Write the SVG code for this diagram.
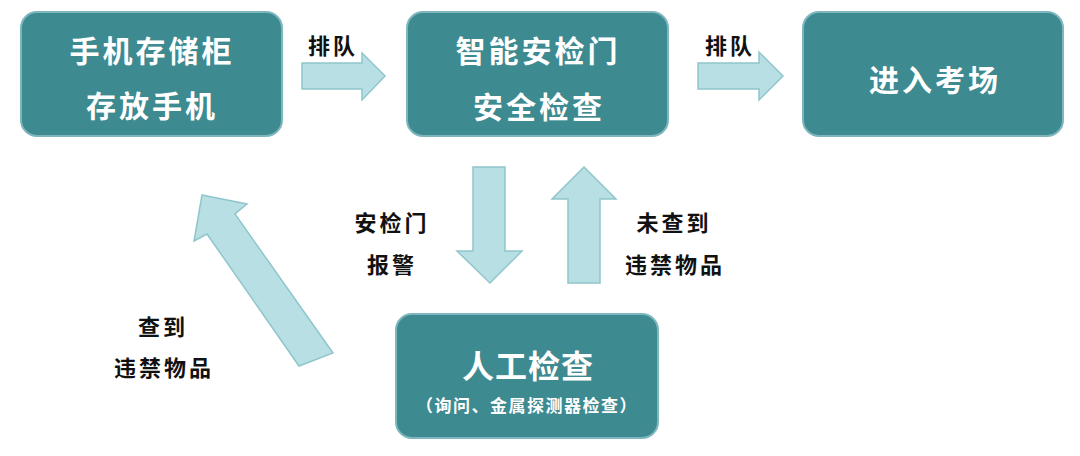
<svg xmlns="http://www.w3.org/2000/svg" width="1080" height="456" viewBox="0 0 1080 456">
<style>
.box{fill:#3D8A91;stroke:#7DB6BC;stroke-width:2}
.bt{fill:#FFFFFF;font-family:"Noto Sans CJK SC","Noto Sans CJK TC",sans-serif;font-weight:bold;text-anchor:middle}
.arr{fill:#B8DFE3;stroke:#8FC6CC;stroke-width:1.5;stroke-linejoin:miter}
.lb{fill:#111111;font-family:"Noto Sans CJK SC","Noto Sans CJK TC",sans-serif;font-weight:bold;font-size:22px;letter-spacing:3px;text-anchor:middle}
</style>
<rect width="1080" height="456" fill="#FFFFFF"/>
<g id="node-phone">
<rect class="box" x="21" y="12" width="261" height="124" rx="16"/>
<text class="bt" x="152" y="62" font-size="30" letter-spacing="3">手机存储柜</text>
<text class="bt" x="152" y="117" font-size="30" letter-spacing="3">存放手机</text>
</g>
<g id="node-gate">
<rect class="box" x="407" y="12" width="261" height="124" rx="16"/>
<text class="bt" x="538" y="62" font-size="30" letter-spacing="3">智能安检门</text>
<text class="bt" x="539" y="118" font-size="30" letter-spacing="3">安全检查</text>
</g>
<g id="node-enter">
<rect class="box" x="803" y="12" width="260" height="124" rx="16"/>
<text class="bt" x="935" y="91" font-size="30" letter-spacing="3">进入考场</text>
</g>
<g id="node-manual">
<rect class="box" x="396" y="314" width="262" height="124" rx="16"/>
<text class="bt" x="528" y="378" font-size="32" letter-spacing="1">人工检查</text>
<text class="bt" x="527" y="412" font-size="17" letter-spacing="1.5">（询问、金属探测器检查）</text>
</g>
<g id="connectors">
<polygon class="arr" points="302,63 362,63 362,53 385,76 362,100 362,89 302,89"/>
<polygon class="arr" points="698,63 759,63 759,52 783,76 759,100 759,89 698,89"/>
<polygon class="arr" points="473,167 505,167 505,251 522,251 490,283 457,251 473,251"/>
<polygon class="arr" points="584,167 616,199 600,199 600,283 568,283 568,199 552,199"/>
<polygon class="arr" points="202,195 247,204 235,214 333,353 299,366 207,234 194,241"/>
<text class="lb" x="333" y="54">排队</text>
<text class="lb" x="730" y="54">排队</text>
<text class="lb" x="392" y="231">安检门</text>
<text class="lb" x="392" y="273">报警</text>
<text class="lb" x="674" y="231">未查到</text>
<text class="lb" x="675" y="273">违禁物品</text>
<text class="lb" x="163" y="335">查到</text>
<text class="lb" x="164" y="376">违禁物品</text>
</g>
</svg>
